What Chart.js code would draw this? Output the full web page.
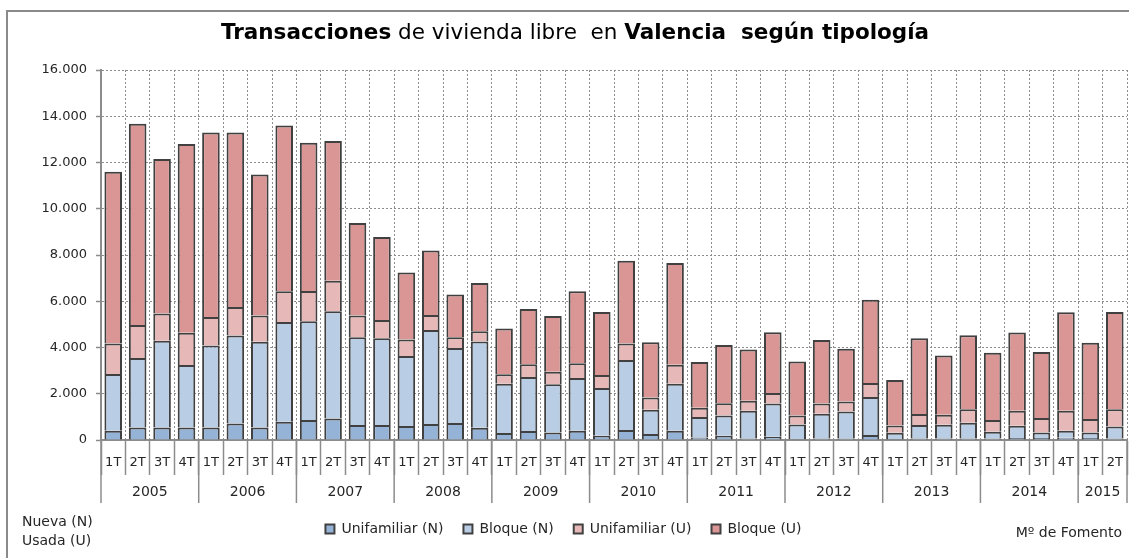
<!DOCTYPE html>
<html lang="es">
<head>
    <meta charset="UTF-8">
    <title>Transacciones de vivienda libre en Valencia según tipología</title>
    <script src="https://cdn.jsdelivr.net/npm/chart.js"></script>
    <style>
        body {
            margin: 0;
            background-color: #fff;
            font-family: 'DejaVu Sans', sans-serif;
            color: #262626;
        }
        #wrap {
            position: relative;
            width: 1129px;
            height: 558px;
            overflow: hidden;
        }
        #frame {
            position: absolute;
            left: 6px;
            top: 10px;
            width: 1140px;
            height: 560px;
            border: 2px solid #8a8a8a;
        }
        #title {
            position: absolute;
            top: 19px;
            left: 0;
            width: 1150px;
            text-align: center;
            font-size: 21.5px;
            color: #000;
            white-space: pre;
        }
        #chart {
            position: absolute;
            left: 0;
            top: 0;
        }
        .note {
            position: absolute;
            font-size: 14px;
            line-height: 19px;
            color: #262626;
        }
    </style>
</head>
<body>
<div id="wrap">
    <div id="frame"></div>
    <canvas id="chart" width="1129" height="558"></canvas>
    <div id="title"><b>Transacciones</b> de vivienda libre  en <b>Valencia  según tipología</b></div>
    <div class="note" style="left:22px; top:512px;">Nueva (N)<br>Usada (U)</div>
    <div class="note" style="right:7px; top:523px;">Mº de Fomento</div>
</div>

<script>
    const quarters = [
        '1T', '2T', '3T', '4T', '1T', '2T', '3T', '4T', '1T', '2T', '3T', '4T',
        '1T', '2T', '3T', '4T', '1T', '2T', '3T', '4T', '1T', '2T', '3T', '4T',
        '1T', '2T', '3T', '4T', '1T', '2T', '3T', '4T', '1T', '2T', '3T', '4T',
        '1T', '2T', '3T', '4T', '1T', '2T'
    ];
    const years = ['2005', '2006', '2007', '2008', '2009', '2010', '2011', '2012', '2013', '2014', '2015'];
    const yearQuarters = [4, 4, 4, 4, 4, 4, 4, 4, 4, 4, 2];

    // valores (transacciones por trimestre)
    const unifamiliarN = [400, 543, 543, 543, 543, 715, 543, 788, 861, 932, 646, 646,
        603, 689, 732, 530, 300, 388, 328, 400, 185, 430, 258, 400,
        112, 185, 60, 140, 30, 60, 60, 215, 40, 60, 60, 60,
        60, 90, 90, 100, 90, 60];
    const bloqueN = [2455, 3001, 3746, 2699, 3548, 3806, 3703, 4319, 4276, 4636, 3802, 3759,
        3027, 4073, 3242, 3733, 2137, 2338, 2083, 2283, 2067, 3028, 1047, 2037,
        878, 874, 1202, 1436, 642, 1072, 1172, 1649, 274, 586, 599, 685,
        297, 526, 238, 300, 238, 526];
    const unifamiliarU = [1322, 1434, 1180, 1391, 1231, 1232, 1137, 1322, 1305, 1322, 935, 788,
        719, 646, 474, 444, 405, 547, 543, 633, 560, 719, 529, 818,
        401, 534, 430, 461, 387, 444, 430, 603, 315, 474, 431, 590,
        504, 646, 619, 862, 576, 749];
    const bloqueU = [7423, 8702, 6681, 8167, 7978, 7547, 6097, 7171, 6408, 6040, 3997, 3587,
        2891, 2792, 1842, 2083, 1978, 2397, 2406, 3114, 2728, 3573, 2396, 4395,
        1979, 2517, 2218, 2623, 2331, 2744, 2288, 3593, 1971, 3280, 2560, 3195,
        2909, 3388, 2863, 4258, 3306, 4195];

    const yMax = 16000;
    const yStep = 2000;

    const gridGray = '#8c8c8c';
    const textColor = '#262626';
    const fontFamily = "'DejaVu Sans', sans-serif";

    function formatThousands(v) {
        return v.toString().replace(/\B(?=(\d{3})+(?!\d))/g, '.');
    }

    // segunda fila del eje: años con separadores
    const yearAxis = {
        id: 'yearAxis',
        afterDraw(chart) {
            const ctx = chart.ctx;
            const x = chart.scales.x;
            const y0 = chart.chartArea.bottom;
            ctx.save();
            ctx.strokeStyle = gridGray;
            ctx.lineWidth = 1.5;
            ctx.fillStyle = textColor;
            ctx.font = '14px ' + fontFamily;
            ctx.textAlign = 'center';
            ctx.textBaseline = 'middle';
            let start = 0;
            years.forEach((yr, k) => {
                const left = x.getPixelForValue(start - 0.5);
                const right = x.getPixelForValue(start + yearQuarters[k] - 0.5);
                ctx.beginPath();
                ctx.moveTo(left, y0);
                ctx.lineTo(left, y0 + 63);
                ctx.stroke();
                ctx.fillText(yr, (left + right) / 2, y0 + 52);
                start += yearQuarters[k];
            });
            const end = x.getPixelForValue(start - 0.5);
            ctx.beginPath();
            ctx.moveTo(end, y0);
            ctx.lineTo(end, y0 + 63);
            ctx.stroke();
            ctx.restore();
        }
    };

    function makeSet(label, data, color) {
        return {
            label: label,
            data: data,
            backgroundColor: color,
            borderColor: '#404040',
            borderWidth: 2,
            categoryPercentage: 1,
            barPercentage: 0.72
        };
    }

    new Chart(document.getElementById('chart'), {
        type: 'bar',
        data: {
            labels: quarters,
            datasets: [
                makeSet('Unifamiliar (N)', unifamiliarN, '#95b3d7'),
                makeSet('Bloque (N)', bloqueN, '#b9cde5'),
                makeSet('Unifamiliar (U)', unifamiliarU, '#e6b9b8'),
                makeSet('Bloque (U)', bloqueU, '#d99694')
            ]
        },
        options: {
            responsive: false,
            animation: false,
            layout: { padding: { top: 70, right: 2, bottom: 12, left: 0 } },
            plugins: {
                title: { display: false },
                tooltip: { enabled: false },
                legend: {
                    position: 'bottom',
                    labels: {
                        boxWidth: 9,
                        boxHeight: 9,
                        padding: 20,
                        color: textColor,
                        font: { family: fontFamily, size: 14 }
                    }
                }
            },
            scales: {
                x: {
                    stacked: true,
                    grid: {
                        color: gridGray,
                        lineWidth: 1,
                        offset: true,
                        tickLength: 35,
                        tickColor: gridGray,
                        tickWidth: 1.5
                    },
                    border: { color: gridGray, width: 2, dash: [2, 2] },
                    ticks: {
                        autoSkip: false,
                        maxRotation: 0,
                        padding: -20,
                        color: textColor,
                        font: { family: fontFamily, size: 13 }
                    },
                    afterFit(scale) { scale.height = 62; }
                },
                y: {
                    stacked: true,
                    min: 0,
                    max: yMax,
                    grid: {
                        color: gridGray,
                        lineWidth: 1,
                        tickLength: 5,
                        tickColor: gridGray,
                        tickWidth: 1.5
                    },
                    border: { color: gridGray, width: 2, dash: [2, 2] },
                    ticks: {
                        stepSize: yStep,
                        padding: 9,
                        color: textColor,
                        font: { family: fontFamily, size: 13 },
                        callback: v => formatThousands(v)
                    },
                    afterFit(scale) { scale.width = 101; }
                }
            }
        },
        plugins: [yearAxis]
    });
</script>
</body>
</html>
